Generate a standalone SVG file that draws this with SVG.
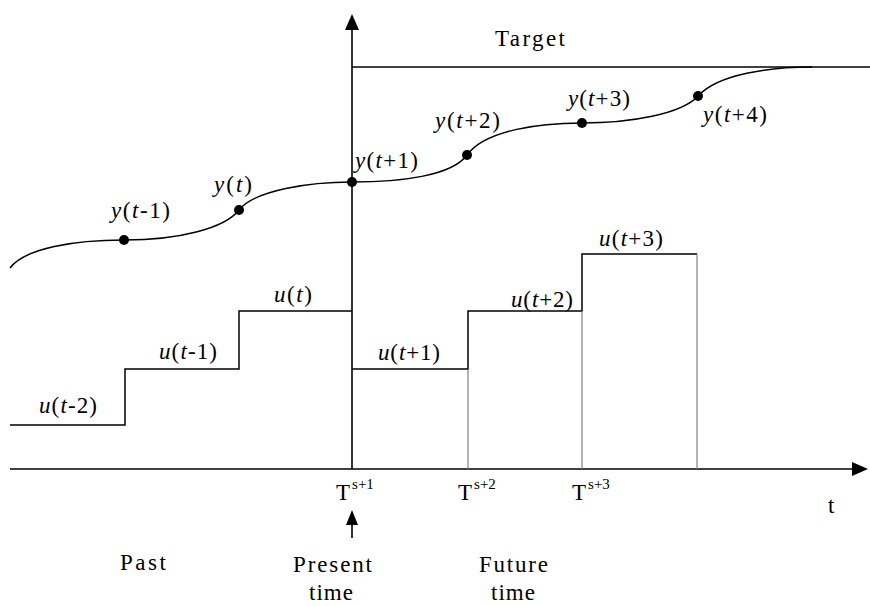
<svg xmlns="http://www.w3.org/2000/svg" width="870" height="606" viewBox="0 0 870 606">
<style>
.ax{stroke:#000;stroke-width:1.6;fill:none}
.st{stroke:#000;stroke-width:1.5;fill:none}
.gr{stroke:#808080;stroke-width:1.2;fill:none}
.cv{stroke:#000;stroke-width:1.5;fill:none}
text{font-family:"Liberation Serif","Times New Roman",serif;font-size:23px;fill:#000}
.i{font-style:italic}
.sup{font-size:15px}
</style>
<rect width="870" height="606" fill="#fff"/>
<g id="axes">
<line class="ax" x1="352" y1="26" x2="352" y2="469"/>
<polygon points="352,14 345,30 359,30" fill="#000"/>
<line class="ax" x1="10" y1="469" x2="854" y2="469"/>
<polygon points="868,469 852,462 852,476" fill="#000"/>
<line class="st" x1="352" y1="67" x2="870" y2="67"/>
</g>
<g id="steps">
<polyline class="st" points="10,425 125,425 125,369 239,369 239,311 352,311"/>
<polyline class="st" points="352,369 468,369 468,311 582,311 582,254 697,254"/>
<line class="gr" x1="468" y1="369" x2="468" y2="469"/>
<line class="gr" x1="582" y1="311" x2="582" y2="469"/>
<line class="gr" x1="697" y1="254" x2="697" y2="469"/>
</g>
<g id="curve">
<path class="cv" d="M10,268 C25,248 75,240 124,240 C180,240 225,228 239,210 C255,190 310,182 352,182 C400,182 452,176 467,155 C485,130 540,123 582,123 C630,123 682,114 698,96 C718,74 770,67 812,67"/>
<circle cx="124" cy="240" r="5"/>
<circle cx="239" cy="210" r="5"/>
<circle cx="352" cy="182" r="5"/>
<circle cx="467" cy="155" r="5"/>
<circle cx="582" cy="123" r="5"/>
<circle cx="698" cy="96" r="5"/>
</g>
<g id="labels">
<text x="495" y="46" textLength="70">Target</text>
<text x="111" y="218" textLength="59"><tspan class="i">y</tspan>(<tspan class="i">t</tspan>-1)</text>
<text x="214" y="192" textLength="38"><tspan class="i">y</tspan>(<tspan class="i">t</tspan>)</text>
<text x="355" y="168" textLength="63"><tspan class="i">y</tspan>(<tspan class="i">t</tspan>+1)</text>
<text x="435" y="128" textLength="65"><tspan class="i">y</tspan>(<tspan class="i">t</tspan>+2)</text>
<text x="568" y="106" textLength="62"><tspan class="i">y</tspan>(<tspan class="i">t</tspan>+3)</text>
<text x="703" y="122" textLength="64"><tspan class="i">y</tspan>(<tspan class="i">t</tspan>+4)</text>
<text x="39" y="413" textLength="58"><tspan class="i">u</tspan>(<tspan class="i">t</tspan>-2)</text>
<text x="159" y="359" textLength="58"><tspan class="i">u</tspan>(<tspan class="i">t</tspan>-1)</text>
<text x="274" y="302" textLength="38"><tspan class="i">u</tspan>(<tspan class="i">t</tspan>)</text>
<text x="378" y="360" textLength="62"><tspan class="i">u</tspan>(<tspan class="i">t</tspan>+1)</text>
<text x="511" y="307" textLength="62"><tspan class="i">u</tspan>(<tspan class="i">t</tspan>+2)</text>
<text x="599" y="246" textLength="64"><tspan class="i">u</tspan>(<tspan class="i">t</tspan>+3)</text>
</g>
<g id="ticks">
<text x="336" y="500">T<tspan class="sup" dx="2" dy="-11">s+1</tspan></text>
<text x="458" y="500">T<tspan class="sup" dx="2" dy="-11">s+2</tspan></text>
<text x="572" y="500">T<tspan class="sup" dx="2" dy="-11">s+3</tspan></text>
<text x="828" y="513">t</text>
</g>
<g id="present-arrow">
<line class="ax" x1="352" y1="522" x2="352" y2="538"/>
<polygon points="352,510 346,525 358,525" fill="#000"/>
</g>
<g id="periods">
<text x="120" y="570" textLength="46">Past</text>
<text x="293" y="572" textLength="79">Present</text>
<text x="309" y="600" textLength="44">time</text>
<text x="479" y="572" textLength="69">Future</text>
<text x="491" y="600" textLength="44">time</text>
</g>
</svg>
